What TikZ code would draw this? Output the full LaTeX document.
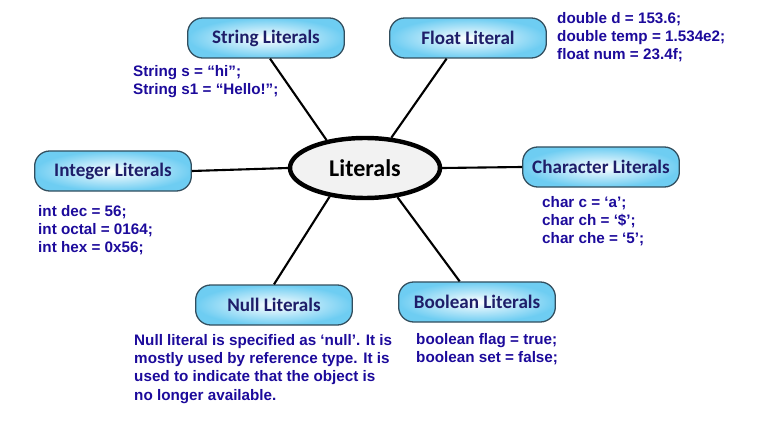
\documentclass[tikz,border=0pt]{standalone}
\usepackage{fontspec}
\setmainfont{Liberation Sans}
\newfontfamily\boxfont{Carlito}
\usetikzlibrary{shapes.geometric}
\definecolor{codeblue}{RGB}{28,10,155}
\definecolor{boxnavy}{RGB}{30,30,105}
\definecolor{boxedge}{RGB}{110,205,242}
\definecolor{boxline}{RGB}{50,78,94}
\tikzset{
  litbox/.style={draw=boxline, line width=1.1pt, rounded corners=0.45cm,
    inner color=white, outer color=boxedge, minimum width=4.7cm,
    minimum height=1.2cm, text=boxnavy,
    font=\boxfont\bfseries\fontsize{16.3}{18}\selectfont},
  code/.style={anchor=north west, inner sep=0pt, align=left, text=codeblue,
    font=\bfseries\fontsize{13}{15.6}\selectfont},
  link/.style={line width=1.8pt}
}
\begin{document}
\begin{tikzpicture}[x=0.03cm, y=-0.03cm]
  \useasboundingbox (0,0) rectangle (760,427);
  \node[ellipse, draw, line width=3.8pt, fill=gray!10, minimum width=4.5cm,
    minimum height=1.8cm, font=\boxfont\bfseries\fontsize{20.5}{24}\selectfont]
    (lit) at (365,168) {Literals};
  \node[litbox] (string) at (266,38) {String Literals};
  \node[litbox] (float) at (468,38) {Float Literal};
  \node[litbox] (integer) at (113,171) {Integer Literals};
  \node[litbox] (char) at (601,167) {Character Literals};
  \node[litbox] (null) at (274,305) {Null Literals};
  \node[litbox] (bool) at (477,302) {Boolean Literals};
  % examples
  \node[code] (stringex) at (133,65) {String s = “hi”;\\String s1 = “Hello!”;};
  \node[code] (floatex) at (557,12) {double d = 153.6;\\double temp = 1.534e2;\\float num = 23.4f;};
  \node[code] (integerex) at (38,205) {int dec = 56;\\int octal = 0164;\\int hex = 0x56;};
  \node[code] (charex) at (542,196) {char c = ‘a’;\\char ch = ‘\$’;\\char che = ‘5’;};
  \node[code] (nullex) at (134,334) {Null literal is specified as ‘null’. It is\\mostly used by reference type. It is\\used to indicate that the object is\\no longer available.};
  \node[code] (boolex) at (416,333) {boolean flag = true;\\boolean set = false;};
  % connectors
  \draw[link] (lit.144) -- (string.-79);
  \draw[link] (lit.49) -- (float.-136);
  \draw[link] (lit.west) -- (integer.east);
  \draw[link] (lit.east) -- (char.west);
  \draw[link] (lit.-141) -- (null.north);
  \draw[link] (lit.-42) -- (bool.130);
\end{tikzpicture}
\end{document}
